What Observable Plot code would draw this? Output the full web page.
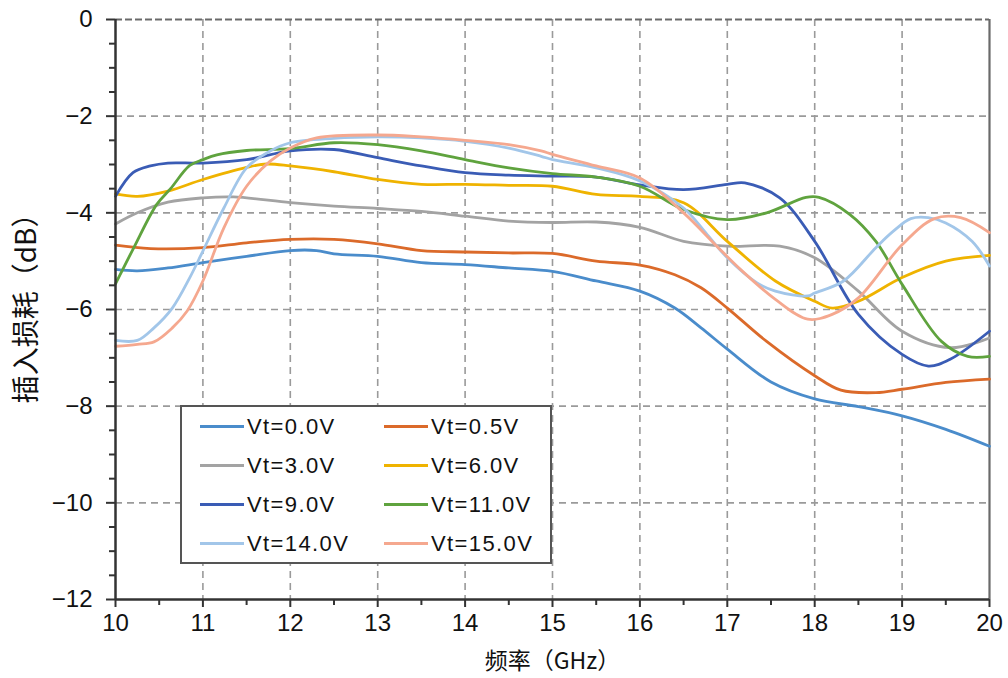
<!DOCTYPE html>
<html>
<head>
<meta charset="utf-8">
<script src="https://cdn.jsdelivr.net/npm/d3@7"></script>
<script src="https://cdn.jsdelivr.net/npm/@observablehq/plot@0.6"></script>
<style>
  html, body { margin: 0; padding: 0; background: #fff; }
  #wrap { position: relative; width: 1008px; height: 678px; }
  #legend {
    position: absolute; left: 180px; top: 405px; width: 368px; height: 155px;
    border: 2px solid #555; background: #fff; box-sizing: content-box;
    display: grid; grid-template-columns: 184px 184px; grid-auto-rows: 39px;
    font-family: "Liberation Sans", Arial, sans-serif; font-size: 22px; color: #111;
  }
  #legend .item { display: flex; align-items: center; }
  #legend .sw { width: 44px; height: 3px; margin-left: 18px; margin-right: 3px; }
  #legend .lab { letter-spacing: 1.4px; }
</style>
</head>
<body>
<div id="wrap"><div id="legend"></div></div>
<script>
// ---- data ----
const names = ["Vt=0.0V","Vt=0.5V","Vt=3.0V","Vt=6.0V","Vt=9.0V","Vt=11.0V","Vt=14.0V","Vt=15.0V"];
const colors = ["#4a8ccb","#db6a2a","#a3a3a3","#efb300","#3a5cb5","#5fa33e","#a2c6e9","#f5a88f"];

const f00 = [10,10.25,10.6,11,11.5,12,12.3,12.5,13,13.5,14,14.5,15,15.5,16,16.4,16.7,17,17.5,18,18.5,19,19.5,20];
const v00 = [-5.17,-5.2,-5.14,-5.03,-4.9,-4.78,-4.78,-4.85,-4.9,-5.03,-5.07,-5.14,-5.21,-5.41,-5.62,-5.97,-6.38,-6.82,-7.5,-7.85,-8.01,-8.2,-8.48,-8.83];

const f05 = [10,10.4,11,11.5,12,12.5,13,13.5,14,14.5,15,15.5,16,16.4,16.7,17,17.45,18,18.3,18.7,19,19.5,20];
const v05 = [-4.67,-4.74,-4.72,-4.62,-4.55,-4.55,-4.64,-4.78,-4.81,-4.83,-4.84,-5.0,-5.08,-5.28,-5.55,-5.97,-6.66,-7.37,-7.67,-7.72,-7.65,-7.51,-7.44];

const f30 = [10,10.25,10.6,11,11.35,12,12.5,13,13.5,14,14.5,15,15.5,16,16.5,17,17.6,18,18.5,19,19.55,20];
const v30 = [-4.23,-4.0,-3.78,-3.69,-3.67,-3.79,-3.86,-3.91,-3.97,-4.07,-4.17,-4.2,-4.19,-4.3,-4.59,-4.69,-4.69,-4.93,-5.62,-6.45,-6.79,-6.59];

const f60 = [10,10.25,10.6,11,11.5,11.73,12,12.5,13,13.5,14,14.5,15,15.5,16,16.5,17,17.55,18,18.2,18.5,19,19.5,20];
const v60 = [-3.61,-3.66,-3.55,-3.31,-3.06,-2.99,-3.03,-3.15,-3.31,-3.41,-3.41,-3.43,-3.45,-3.62,-3.66,-3.79,-4.59,-5.41,-5.83,-5.97,-5.83,-5.34,-5.0,-4.88];

const f90 = [10,10.2,10.4,10.6,11,11.5,12,12.5,13,13.5,14,14.5,15,15.5,16,16.5,17,17.2,17.6,18,18.5,19,19.3,19.55,20];
const v90 = [-3.66,-3.17,-3.03,-2.97,-2.97,-2.9,-2.72,-2.69,-2.86,-3.03,-3.17,-3.22,-3.24,-3.26,-3.42,-3.52,-3.41,-3.38,-3.69,-4.59,-6.1,-6.93,-7.17,-7.03,-6.45];

const f110 = [10,10.21,10.47,10.63,10.85,11,11.16,11.5,12,12.5,13,13.5,14,14.5,15,15.5,16,16.5,17,17.45,17.9,18.05,18.4,18.7,19,19.45,19.75,20];
const v110 = [-5.47,-4.72,-3.83,-3.5,-3.02,-2.9,-2.8,-2.71,-2.67,-2.55,-2.59,-2.72,-2.9,-3.07,-3.19,-3.26,-3.45,-3.93,-4.14,-4.0,-3.68,-3.68,-4.03,-4.59,-5.48,-6.66,-6.97,-6.97];

const f140 = [10,10.25,10.44,10.65,10.85,11,11.24,11.5,11.77,12,12.5,13,13.5,14,14.5,14.87,15,15.5,16,16.5,16.77,17,17.34,17.55,17.92,18,18.33,18.7,18.9,19.1,19.3,19.5,19.8,20];
const v140 = [-6.64,-6.64,-6.38,-5.97,-5.34,-4.79,-3.9,-3.07,-2.72,-2.55,-2.46,-2.43,-2.45,-2.52,-2.66,-2.83,-2.9,-3.07,-3.34,-3.9,-4.45,-4.93,-5.45,-5.62,-5.72,-5.66,-5.41,-4.72,-4.38,-4.12,-4.1,-4.21,-4.59,-5.1];

const f150 = [10,10.25,10.44,10.65,10.82,11,11.24,11.5,11.77,12,12.3,13,13.5,14,14.5,14.87,15,15.5,16,16.5,16.88,17.15,17.55,17.92,18.2,18.5,19,19.37,19.67,20];
const v150 = [-6.76,-6.72,-6.67,-6.38,-6.03,-5.41,-4.31,-3.45,-2.93,-2.66,-2.45,-2.39,-2.43,-2.5,-2.59,-2.72,-2.79,-3.03,-3.28,-4.0,-4.69,-5.17,-5.79,-6.2,-6.1,-5.76,-4.66,-4.12,-4.1,-4.41];

const xTicks = [10,11,12,13,14,15,16,17,18,19,20];
const yTicks = [-12,-10,-8,-6,-4,-2,0];
const xTitle = "频率（GHz）";
const yTitle = "插入损耗（dB）";

// ---- build table ----
const freqs = [f00,f05,f30,f60,f90,f110,f140,f150];
const vals  = [v00,v05,v30,v60,v90,v110,v140,v150];
const data = names.flatMap((n, k) => freqs[k].map((f, i) => ({f, v: vals[k][i], name: n})));

const xMinor = d3.range(10.5, 20, 1);
const yMinor = d3.range(-11.5, 0, 0.5).filter(d => Math.abs(d % 2) > 1e-9);
const grid = {stroke: "#9a9a9a", strokeOpacity: 1, strokeWidth: 1.6, strokeDasharray: "7,5"};
const cjk = "'Noto Sans CJK SC', 'Liberation Sans', sans-serif";

const chart = Plot.plot({
  width: 1008, height: 678,
  marginLeft: 115, marginRight: 19, marginTop: 19, marginBottom: 79,
  x: {domain: [10, 20]},
  y: {domain: [-12, 0]},
  color: {domain: names, range: colors},
  style: {fontFamily: "'Liberation Sans', Arial, sans-serif", fontSize: "24px", color: "#111", background: "#fff", overflow: "visible"},
  marks: [
    Plot.gridX(xTicks.slice(1, -1), grid),
    Plot.gridY(yTicks.slice(1, -1), grid),
    Plot.ruleY([0], {stroke: "#6a6a6a", strokeWidth: 2.2, strokeDasharray: "7,3"}),
    Plot.ruleX([20], {stroke: "#6a6a6a", strokeWidth: 2.2}),
    Plot.line(data, {x: "f", y: "v", z: "name", stroke: "name", strokeWidth: 2.8, curve: "catmull-rom"}),
    Plot.ruleX([10], {stroke: "#333", strokeWidth: 2.5}),
    Plot.ruleY([-12], {stroke: "#333", strokeWidth: 2.5}),
    Plot.axisX(xTicks, {tickSize: 8, tickPadding: 6, stroke: "#333", strokeWidth: 2, tickFormat: d => d, label: null}),
    Plot.axisX(xMinor, {tickSize: 6, text: null, stroke: "#333", strokeWidth: 2, label: null}),
    Plot.axisY(yTicks, {tickSize: 9, tickPadding: 14, stroke: "#333", strokeWidth: 2, label: null}),
    Plot.axisY(yMinor, {tickSize: 6, text: null, stroke: "#333", strokeWidth: 2, label: null}),
    Plot.text([xTitle], {frameAnchor: "bottom", textAnchor: "middle", lineAnchor: "middle", dy: 62, fontSize: 23, fill: "#111", fontFamily: cjk}),
    Plot.text([yTitle], {frameAnchor: "left", textAnchor: "middle", dx: -88, dy: -8, rotate: -90, fontSize: 28, fill: "#111", fontFamily: cjk})
  ]
});
document.getElementById("wrap").prepend(chart);

// ---- legend ----
const leg = document.getElementById("legend");
names.forEach((n, k) => {
  const it = document.createElement("div");
  it.className = "item";
  it.innerHTML = `<span class="sw" style="background:${colors[k]}"></span><span class="lab">${n}</span>`;
  leg.appendChild(it);
});
</script>
</body>
</html>
